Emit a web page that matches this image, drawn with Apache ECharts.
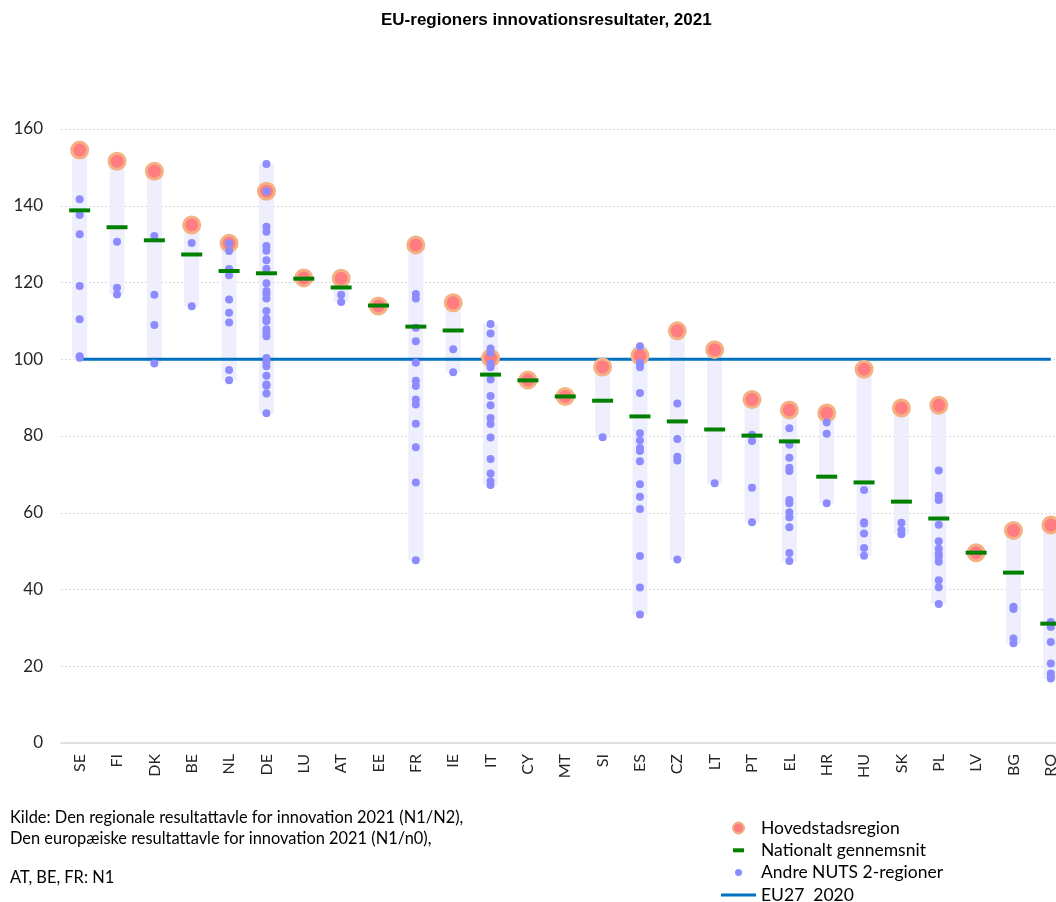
<!DOCTYPE html>
<html>
<head>
<meta charset="utf-8">
<title>EU-regioners innovationsresultater, 2021</title>
<script src="https://cdn.jsdelivr.net/npm/echarts@6/dist/echarts.min.js"></script>
<style>
  html, body { margin: 0; padding: 0; background: #fff; overflow: hidden; }
  /* lidt bredere end vinduet, saa sidste kategori (RO) skaeres af som i originalen */
  #chart { width: 1072px; height: 920px; }
</style>
</head>
<body>
<div id="chart"></div>
<script>
// lande (x-akse)
var countries = ['SE', 'FI', 'DK', 'BE', 'NL', 'DE', 'LU', 'AT', 'EE', 'FR', 'IE', 'IT', 'CY', 'MT', 'SI',
    'ES', 'CZ', 'LT', 'PT', 'EL', 'HR', 'HU', 'SK', 'PL', 'LV', 'BG', 'RO'];
// hovedstadsregion
var capital = [154.5, 151.6, 149.0, 135.0, 130.2, 143.8, 121.2, 121.1, 113.9, 129.8, 114.7, 100.3, 94.6, 90.3, 98.0,
    100.9, 107.4, 102.5, 89.5, 86.8, 86.0, 97.4, 87.3, 88.0, 49.6, 55.4, 56.8];
// nationalt gennemsnit
var national = [138.8, 134.4, 131.0, 127.3, 123.0, 122.4, 121.0, 118.7, 114.0, 108.5, 107.5, 96.0, 94.5, 90.3, 89.2,
    85.1, 83.8, 81.7, 80.1, 78.6, 69.4, 67.9, 62.9, 58.5, 49.6, 44.4, 31.1];
// andre NUTS 2-regioner, et array pr. land
var others = [
    [141.7, 137.6, 132.6, 119.1, 110.4, 100.8, 100.4],
    [130.6, 118.6, 116.9],
    [132.1, 116.8, 108.9, 98.9],
    [130.3, 113.8],
    [130.2, 128.2, 123.5, 121.9, 115.6, 112.1, 109.6, 97.2, 94.5],
    [150.9, 143.8, 134.5, 133.2, 129.5, 128.3, 125.8, 123.6, 119.8, 117.8, 117.0, 115.8, 112.6, 110.6, 109.9,
        107.8, 107.0, 106.0, 100.3, 99.2, 98.2, 95.7, 93.4, 93.1, 91.1, 85.9],
    [],
    [116.8, 114.9],
    [],
    [117.0, 115.8, 108.2, 104.7, 99.1, 94.4, 93.0, 89.5, 88.2, 83.2, 77.1, 67.9, 47.6],
    [102.6, 96.6],
    [109.2, 106.7, 102.8, 101.7, 98.9, 97.9, 94.7, 90.4, 88.0, 84.7, 83.1, 79.6, 74.0, 70.2, 68.2, 67.2],
    [],
    [],
    [79.7],
    [103.4, 99.1, 97.9, 91.2, 80.7, 78.8, 76.9, 76.1, 73.4, 67.4, 64.2, 61.0, 48.7, 40.5, 33.5],
    [88.5, 79.2, 74.6, 73.6, 47.8],
    [67.7],
    [80.3, 78.7, 66.5, 57.5],
    [82.0, 77.7, 74.3, 71.7, 70.9, 63.3, 62.5, 60.1, 58.8, 56.2, 49.5, 47.4],
    [83.5, 80.6, 62.5],
    [65.9, 57.5, 57.2, 54.6, 50.8, 48.8],
    [57.4, 55.5, 54.4],
    [71.0, 64.4, 63.3, 56.9, 52.6, 50.6, 49.4, 48.5, 47.2, 42.4, 40.6, 36.2],
    [],
    [35.5, 34.9, 27.2, 26.0],
    [31.5, 30.2, 26.3, 20.7, 18.1, 17.2, 16.8]
];
// EU27 2020 = 100
var euLevel = 100;
var yTicks = [0, 20, 40, 60, 80, 100, 120, 140, 160];

var sourceLines = [
    'Kilde: Den regionale resultattavle for innovation 2021 (N1/N2),',
    'Den europæiske resultattavle for innovation 2021 (N1/n0),'
];
var noteLine = 'AT, BE, FR: N1';

var fontMain = 'Lato, "Noto Sans", sans-serif';

// min/max pr. land til den lyse baggrundssoejle
function bandData() {
    var base = [], span = [];
    for (var i = 0; i < countries.length; i++) {
        var vals = others[i].concat([capital[i], national[i]]);
        var lo = Math.min.apply(null, vals);
        var hi = Math.max.apply(null, vals);
        base.push(lo);
        span.push(hi - lo);
    }
    return { base: base, span: span };
}

function otherPoints() {
    var pts = [];
    for (var i = 0; i < others.length; i++) {
        for (var j = 0; j < others[i].length; j++) {
            pts.push([i, others[i][j]]);
        }
    }
    return pts;
}

var band = bandData();
var myChart = echarts.init(document.getElementById('chart'), null, { renderer: 'canvas' });

myChart.setOption({
    animation: false,
    backgroundColor: '#ffffff',
    title: {
        text: 'EU-regioners innovationsresultater, 2021',
        left: 376,
        top: 7,
        textStyle: { fontFamily: '"Liberation Sans", Arial, sans-serif', fontSize: 17, fontWeight: 'bold', color: '#000' }
    },
    grid: { left: 61, top: 129, width: 1008.5, height: 614, containLabel: false },
    xAxis: {
        type: 'category',
        data: countries,
        boundaryGap: true,
        axisTick: { show: false },
        axisLine: { lineStyle: { color: '#D9D9D9', width: 1.5 } },
        axisLabel: { rotate: 90, margin: 11, fontFamily: fontMain, fontSize: 16, color: '#262626', interval: 0 }
    },
    yAxis: {
        type: 'value',
        min: yTicks[0],
        max: yTicks[yTicks.length - 1],
        interval: 20,
        axisLine: { show: false },
        axisTick: { show: false },
        axisLabel: { margin: 18, fontFamily: fontMain, fontSize: 17, color: '#262626' },
        splitLine: { lineStyle: { color: '#D9D9D9', width: 1, type: [2, 2] } }
    },
    legend: {
        orient: 'vertical',
        left: 715,
        top: 814,
        itemWidth: 35,
        itemHeight: 14,
        itemGap: 4.3,
        textStyle: { fontFamily: fontMain, fontSize: 17.5, lineHeight: 18, color: '#000' },
        data: [
            { name: 'Hovedstadsregion', icon: 'path://M0,0M35,14M12,7a5.5,5.5 0 1,0 11,0a5.5,5.5 0 1,0 -11,0z' },
            { name: 'Nationalt gennemsnit', icon: 'path://M0,0M35,14M12,5h11v4h-11z' },
            { name: 'Andre NUTS 2-regioner', icon: 'path://M0,0M35,14M14,7a3.5,3.5 0 1,0 7,0a3.5,3.5 0 1,0 -7,0z' },
            { name: 'EU27  2020', icon: 'path://M0,0M35,14M0,5.5h35v3h-35z' }
        ]
    },
    graphic: [
        { type: 'text', left: 10, top: 807, style: { text: sourceLines.join('\n'), fontFamily: fontMain, fontSize: 16.4, lineHeight: 21, fill: '#000' } },
        { type: 'text', left: 10, top: 870, style: { text: noteLine, fontFamily: fontMain, fontSize: 16.4, fill: '#000' } }
    ],
    series: [
        {
            name: 'bandBase',
            type: 'bar',
            stack: 'band',
            barWidth: 15,
            silent: true,
            itemStyle: { color: 'rgba(0,0,0,0)' },
            data: band.base,
            z: 1
        },
        {
            name: 'band',
            type: 'bar',
            stack: 'band',
            barWidth: 15,
            silent: true,
            itemStyle: { color: '#EEEEFC' },
            data: band.span,
            z: 1
        },
        {
            name: 'EU27  2020',
            type: 'line',
            data: countries.map(function () { return euLevel; }),
            symbol: 'none',
            lineStyle: { color: '#0070C0', width: 3 },
            itemStyle: { color: '#0070C0' },
            z: 2
        },
        {
            name: 'Hovedstadsregion',
            type: 'scatter',
            data: capital.map(function (v, i) { return [i, v]; }),
            symbol: 'circle',
            symbolSize: 16,
            itemStyle: { color: '#FF7C80', borderColor: '#F4B183', borderWidth: 3, opacity: 1 },
            z: 3
        },
        {
            name: 'Andre NUTS 2-regioner',
            type: 'scatter',
            data: otherPoints(),
            symbol: 'circle',
            symbolSize: 8,
            itemStyle: { color: '#8C8CFF', opacity: 1 },
            z: 4
        },
        {
            name: 'Nationalt gennemsnit',
            type: 'scatter',
            data: national.map(function (v, i) { return [i, v]; }),
            symbol: 'rect',
            symbolSize: [21, 4],
            itemStyle: { color: '#008000', opacity: 1 },
            z: 5
        }
    ]
});
</script>
</body>
</html>
